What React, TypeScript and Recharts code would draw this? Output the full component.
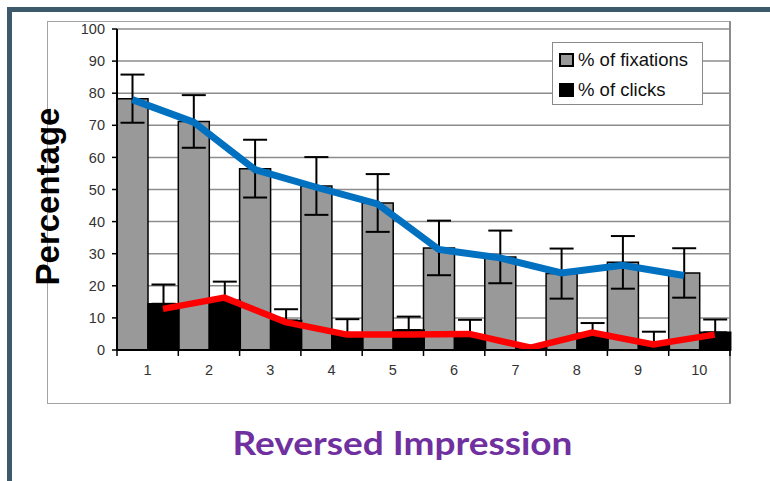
import React from 'react';
import { ComposedChart, Bar, Line, XAxis, YAxis, CartesianGrid, ErrorBar, Legend } from 'recharts';

// reversed impression position 1..10
const categories = ['1', '2', '3', '4', '5', '6', '7', '8', '9', '10'];

const fixations = [78.3, 71.2, 56.5, 51.1, 45.8, 31.8, 29, 23.8, 27.3, 24];
const fixationErr = [7.5, 8.2, 9, 9, 9, 8.5, 8.2, 7.8, 8.2, 7.7];
const clicks = [14.4, 15.5, 9.2, 4.6, 6.2, 4.6, 0.8, 5.2, 1.7, 5.5];
// clicks only have the upper whisker
const clickErr = [6, 5.8, 3.5, 5, 4.2, 4.8, 0.5, 3.2, 4, 4];

// hand drawn trend lines over the bars
const fixationTrend = [78, 71, 56.2, 50.7, 45.5, 31.3, 28.7, 24, 26.4, 23.2];
const clickTrend = [12.8, 16.3, 8.7, 4.8, 4.8, 5.0, 0.7, 5.4, 1.7, 4.8];

const yTicks = [0, 10, 20, 30, 40, 50, 60, 70, 80, 90, 100];
const legendOrder = ['fixations', 'clicks'];

const data = categories.map((name, i) => ({
    name,
    idx: i,
    fixations: fixations[i],
    fixationErr: fixationErr[i],
    clicks: clicks[i],
    clickErr: [0, clickErr[i]],
    fixationTrend: fixationTrend[i],
    clickTrend: clickTrend[i],
}));

const FONT = '"Liberation Sans", Arial, sans-serif';
const tickStyle = { fill: '#333333', fontSize: 14.5, fontFamily: FONT };

// label in the middle of the band, tick marks on the band edges (Excel style)
const CategoryTick = (props: any) => {
    const { x, y, payload, index, visibleTicksCount, width } = props;
    const half = payload && payload.offset ? payload.offset : width / (visibleTicksCount || 10) / 2;
    const isLast = index === (visibleTicksCount || 10) - 1;
    return (
        <g>
            <line x1={x - half} x2={x - half} y1={y} y2={y + 6} stroke="#000" strokeWidth={1.5} />
            {isLast && <line x1={x + half} x2={x + half} y1={y} y2={y + 6} stroke="#000" strokeWidth={1.5} />}
            <text x={x} y={y + 15} dy="0.71em" textAnchor="middle" {...tickStyle}>
                {payload.value}
            </text>
        </g>
    );
};

const renderLegend = (props: any) => {
    const items = (props.payload || [])
        .filter((p: any) => legendOrder.includes(p.dataKey))
        .sort((a: any, b: any) => legendOrder.indexOf(a.dataKey) - legendOrder.indexOf(b.dataKey));
    return (
        <div
            style={{
                width: 151,
                height: 63,
                boxSizing: 'border-box',
                border: '1.5px solid #8a8a8a',
                background: '#fff',
                padding: '2px 0 0 6px',
                fontFamily: FONT,
                fontSize: 18.5,
                color: '#111',
            }}
        >
            {items.map((p: any) => (
                <div key={p.value} style={{ display: 'flex', alignItems: 'center', height: 30 }}>
                    <span
                        style={{
                            display: 'inline-block',
                            width: 15,
                            height: 14,
                            boxSizing: 'border-box',
                            background: p.color,
                            border: '2px solid #000',
                            marginRight: 4,
                        }}
                    />
                    <span>{p.value}</span>
                </div>
            ))}
        </div>
    );
};

export default function App() {
    return (
        <div style={{ position: 'absolute', left: 0, top: 0, width: 770, height: 481, background: '#fff', overflow: 'hidden' }}>
            {/* slide frame */}
            <div style={{ position: 'absolute', left: 7, top: 7, width: 763, height: 5, background: '#3d5a6c' }} />
            <div style={{ position: 'absolute', left: 7, top: 7, width: 5, height: 474, background: '#3d5a6c' }} />
            {/* chart box */}
            <div
                style={{
                    position: 'absolute',
                    left: 47,
                    top: 21,
                    width: 684,
                    height: 383,
                    boxSizing: 'border-box',
                    borderTop: '1.5px solid #a3a3a3',
                    borderLeft: '1.5px solid #a3a3a3',
                    borderBottom: '1.5px solid #a3a3a3',
                    borderRight: '2px solid #8c8c8c',
                }}
            />
            <div style={{ position: 'absolute', left: 0, top: 0 }}>
                <ComposedChart
                    width={770}
                    height={481}
                    data={data}
                    margin={{ top: 29, right: 40, left: 57, bottom: 100 }}
                    barGap={0}
                    barCategoryGap={0}
                >
                    <CartesianGrid vertical={false} stroke="#8c8c8c" strokeWidth={1.5} />
                    <XAxis
                        xAxisId="cat"
                        dataKey="name"
                        height={31}
                        tick={<CategoryTick />}
                        tickLine={false}
                        tickSize={0}
                        tickMargin={0}
                        interval={0}
                        axisLine={{ stroke: '#000', strokeWidth: 2 }}
                        label={{
                            content: (p: any) => {
                                const vb = p.viewBox || { x: 117, y: 350, width: 612 };
                                return (
                                    <text
                                        x={vb.x + vb.width / 2 - 21}
                                        y={vb.y + 105}
                                        textAnchor="middle"
                                        textLength={340}
                                        lengthAdjust="spacingAndGlyphs"
                                        fill="#7030A0"
                                        fontSize={33}
                                        fontWeight={700}
                                        fontFamily="Lato, 'Open Sans', sans-serif"
                                    >
                                        Reversed Impression
                                    </text>
                                );
                            },
                        }}
                    />
                    <XAxis xAxisId="fixPos" type="number" dataKey="idx" domain={[-0.25, 9.75]} allowDataOverflow hide />
                    <XAxis xAxisId="clkPos" type="number" dataKey="idx" domain={[-0.75, 9.25]} allowDataOverflow hide />
                    <YAxis
                        domain={[0, 100]}
                        ticks={yTicks}
                        width={60}
                        tick={tickStyle}
                        tickSize={5}
                        tickMargin={7}
                        tickLine={{ stroke: '#000', strokeWidth: 1.5 }}
                        axisLine={{ stroke: '#000', strokeWidth: 2 }}
                        label={{
                            content: (p: any) => {
                                const vb = p.viewBox || { x: 57, y: 29, height: 321 };
                                const cx = vb.x - 10;
                                const cy = vb.y + vb.height / 2 + 7;
                                return (
                                    <text
                                        x={cx}
                                        y={cy}
                                        transform={`rotate(-90 ${cx} ${cy})`}
                                        textAnchor="middle"
                                        dominantBaseline="central"
                                        fill="#000"
                                        fontSize={33}
                                        fontWeight={700}
                                        fontFamily={FONT}
                                    >
                                        Percentage
                                    </text>
                                );
                            },
                        }}
                    />
                    <Legend
                        layout="vertical"
                        align="center"
                        verticalAlign="middle"
                        content={renderLegend}
                        wrapperStyle={{ left: 552, top: 42, width: 151, height: 63 }}
                    />
                    <Bar xAxisId="cat" dataKey="fixations" name="% of fixations" fill="#999999" stroke="#000" strokeWidth={1.5} isAnimationActive={false}>
                        <ErrorBar dataKey="fixationErr" width={12} stroke="#000" strokeWidth={2} />
                    </Bar>
                    <Bar xAxisId="cat" dataKey="clicks" name="% of clicks" fill="#000000" stroke="#000" strokeWidth={1.5} isAnimationActive={false}>
                        <ErrorBar dataKey="clickErr" width={12} stroke="#000" strokeWidth={2} />
                    </Bar>
                    <Line
                        xAxisId="fixPos"
                        dataKey="fixationTrend"
                        type="linear"
                        stroke="#0070C0"
                        strokeWidth={7}
                        dot={false}
                        legendType="none"
                        isAnimationActive={false}
                    />
                    <Line
                        xAxisId="clkPos"
                        dataKey="clickTrend"
                        type="linear"
                        stroke="#FF0000"
                        strokeWidth={6.5}
                        dot={false}
                        legendType="none"
                        isAnimationActive={false}
                    />
                </ComposedChart>
            </div>
        </div>
    );
}
